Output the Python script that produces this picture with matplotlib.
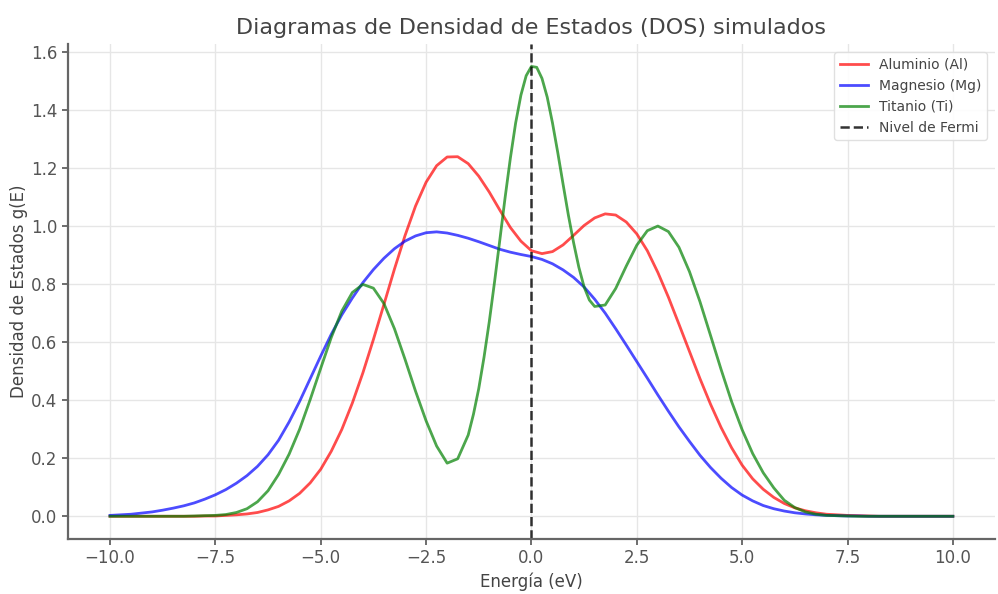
import matplotlib
matplotlib.use("Agg")
import matplotlib.pyplot as plt

# Energy grid (eV) for Al and Mg
energia = [-10.0, -9.75, -9.5, -9.25, -9.0, -8.75, -8.5, -8.25, -8.0, -7.75,
           -7.5, -7.25, -7.0, -6.75, -6.5, -6.25, -6.0, -5.75, -5.5, -5.25,
           -5.0, -4.75, -4.5, -4.25, -4.0, -3.75, -3.5, -3.25, -3.0, -2.75,
           -2.5, -2.25, -2.0, -1.75, -1.5, -1.25, -1.0, -0.75, -0.5, -0.25,
           0.0, 0.25, 0.5, 0.75, 1.0, 1.25, 1.5, 1.75, 2.0, 2.25,
           2.5, 2.75, 3.0, 3.25, 3.5, 3.75, 4.0, 4.25, 4.5, 4.75,
           5.0, 5.25, 5.5, 5.75, 6.0, 6.25, 6.5, 6.75, 7.0, 7.25,
           7.5, 7.75, 8.0, 8.25, 8.5, 8.75, 9.0, 9.25, 9.5, 9.75, 10.0]

aluminio = [0.000, 0.000, 0.000, 0.000, 0.000, 0.000, 0.000, 0.000, 0.000, 0.001,
            0.001, 0.003, 0.005, 0.008, 0.013, 0.022, 0.034, 0.053, 0.079, 0.115,
            0.162, 0.224, 0.299, 0.390, 0.494, 0.609, 0.730, 0.852, 0.967, 1.069,
            1.151, 1.208, 1.238, 1.239, 1.215, 1.172, 1.117, 1.055, 0.995, 0.948,
            0.915, 0.905, 0.912, 0.935, 0.968, 1.002, 1.028, 1.042, 1.038, 1.014,
            0.973, 0.915, 0.840, 0.755, 0.662, 0.568, 0.474, 0.386, 0.306, 0.236,
            0.176, 0.129, 0.093, 0.065, 0.044, 0.029, 0.019, 0.012, 0.007, 0.005,
            0.003, 0.002, 0.001, 0.000, 0.000, 0.000, 0.000, 0.000, 0.000, 0.000, 0.000]

magnesio = [0.003, 0.005, 0.007, 0.011, 0.015, 0.021, 0.028, 0.036, 0.046, 0.059,
            0.074, 0.092, 0.114, 0.140, 0.172, 0.212, 0.262, 0.325, 0.396, 0.474,
            0.552, 0.627, 0.694, 0.752, 0.805, 0.850, 0.889, 0.922, 0.948, 0.966,
            0.977, 0.980, 0.976, 0.968, 0.958, 0.946, 0.933, 0.920, 0.910, 0.902,
            0.895, 0.885, 0.870, 0.849, 0.823, 0.790, 0.748, 0.700, 0.646, 0.590,
            0.533, 0.476, 0.418, 0.362, 0.308, 0.258, 0.210, 0.168, 0.131, 0.099,
            0.073, 0.053, 0.037, 0.026, 0.018, 0.012, 0.008, 0.005, 0.003, 0.002,
            0.001, 0.001, 0.000, 0.000, 0.000, 0.000, 0.000, 0.000, 0.000, 0.000, 0.000]

# Finer grid near the sharp Ti peak
energia_ti = [-10.0, -9.75, -9.5, -9.25, -9.0, -8.75, -8.5, -8.25, -8.0, -7.75,
              -7.5, -7.25, -7.0, -6.75, -6.5, -6.25, -6.0, -5.75, -5.5, -5.25,
              -5.0, -4.75, -4.5, -4.25, -4.0, -3.75, -3.5, -3.25, -3.0, -2.75,
              -2.5, -2.25, -2.0, -1.75, -1.5, -1.375, -1.25, -1.125, -1.0, -0.875,
              -0.75, -0.625, -0.5, -0.375, -0.25, -0.125, 0.0, 0.125, 0.25, 0.375,
              0.5, 0.625, 0.75, 0.875, 1.0, 1.125, 1.25, 1.375, 1.5, 1.75,
              2.0, 2.25, 2.5, 2.75, 3.0, 3.25, 3.5, 3.75, 4.0, 4.25,
              4.5, 4.75, 5.0, 5.25, 5.5, 5.75, 6.0, 6.25, 6.5, 6.75,
              7.0, 7.25, 7.5, 7.75, 8.0, 8.25, 8.5, 8.75, 9.0, 9.25, 9.5, 9.75, 10.0]

titanio = [0.000, 0.000, 0.000, 0.000, 0.000, 0.000, 0.000, 0.000, 0.001, 0.002,
           0.003, 0.006, 0.013, 0.026, 0.050, 0.088, 0.144, 0.214, 0.300, 0.402,
           0.510, 0.616, 0.707, 0.771, 0.799, 0.786, 0.733, 0.646, 0.541, 0.431,
           0.329, 0.242, 0.183, 0.198, 0.280, 0.352, 0.440, 0.548, 0.671, 0.808,
           0.952, 1.098, 1.234, 1.355, 1.451, 1.518, 1.550, 1.547, 1.509, 1.444,
           1.355, 1.253, 1.145, 1.039, 0.943, 0.858, 0.790, 0.745, 0.723, 0.728,
           0.785, 0.862, 0.934, 0.984, 1.000, 0.981, 0.927, 0.843, 0.739, 0.623,
           0.506, 0.395, 0.298, 0.216, 0.150, 0.098, 0.055, 0.030, 0.015, 0.007,
           0.003, 0.002, 0.001, 0.000, 0.000, 0.000, 0.000, 0.000, 0.000, 0.000, 0.000, 0.000, 0.000]

nivel_fermi = 0.0

etiquetas = ["Aluminio (Al)", "Magnesio (Mg)", "Titanio (Ti)", "Nivel de Fermi"]
titulo = "Diagramas de Densidad de Estados (DOS) simulados"

fig = plt.figure(figsize=(9.98, 5.94), dpi=100)
ax = fig.add_axes([0.068, 0.093, 0.929, 0.833])

ax.plot(energia, aluminio, color="red", alpha=0.7, lw=2, label=etiquetas[0])
ax.plot(energia, magnesio, color="blue", alpha=0.7, lw=2, label=etiquetas[1])
ax.plot(energia_ti, titanio, color="green", alpha=0.7, lw=2, label=etiquetas[2])
ax.axvline(nivel_fermi, color="black", linestyle="--", lw=1.8, alpha=0.8, label=etiquetas[3])

ax.set_title(titulo, fontsize=16, color="#444444", pad=7)
ax.set_xlabel("Energía (eV)", fontsize=12, color="#444444", labelpad=4)
ax.set_ylabel("Densidad de Estados g(E)", fontsize=12, color="#444444", labelpad=2)

ax.grid(True, color="#e6e6e6", lw=1)
ax.set_axisbelow(True)
for s in ["top", "right"]:
    ax.spines[s].set_visible(False)
for s in ["left", "bottom"]:
    ax.spines[s].set_color("#666666")
    ax.spines[s].set_linewidth(1.6)
ax.tick_params(colors="#555555", labelsize=12, direction="out", length=4, width=1.2)

ax.set_xlim(-11, 11)
ax.set_ylim(-0.0775, 1.6275)
ax.set_xticks([-10.0, -7.5, -5.0, -2.5, 0.0, 2.5, 5.0, 7.5, 10.0])
ax.set_yticks([0.0, 0.2, 0.4, 0.6, 0.8, 1.0, 1.2, 1.4, 1.6])

leg = ax.legend(loc="upper right", fontsize=10, frameon=True, framealpha=0.9,
                edgecolor="#dddddd", labelcolor="#444444", borderaxespad=0.6)

fig.savefig("out.png", dpi=100)
